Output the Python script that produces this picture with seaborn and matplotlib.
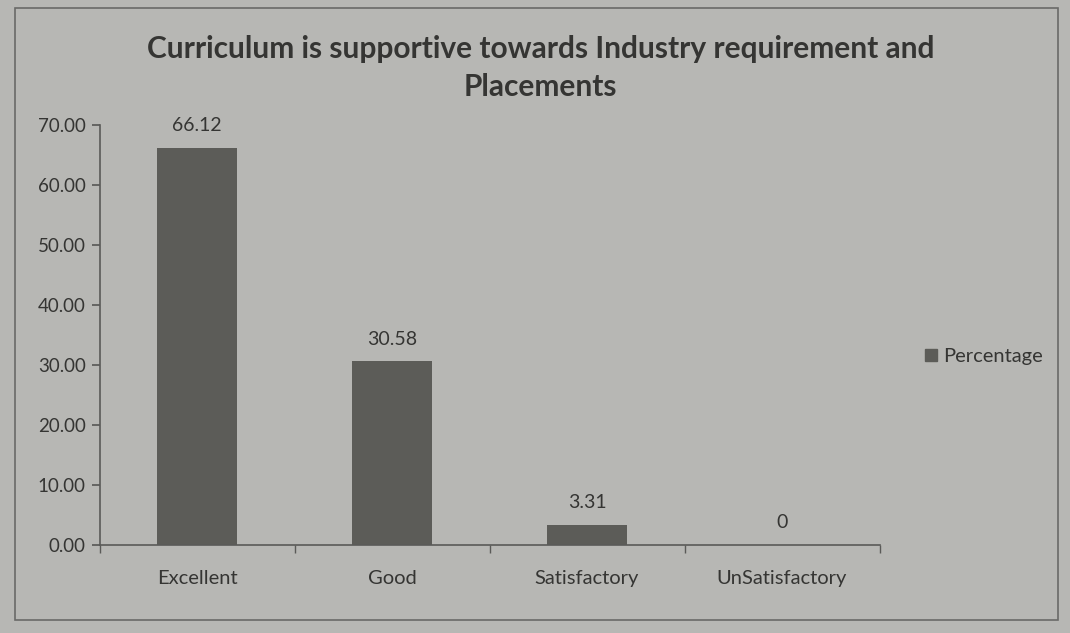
import matplotlib
matplotlib.use("Agg")
import matplotlib.pyplot as plt
import seaborn as sns
from matplotlib.ticker import FormatStrFormatter, FixedLocator
from matplotlib.patches import Rectangle, Patch

categories = ["Excellent", "Good", "Satisfactory", "UnSatisfactory"]
values = [66.12, 30.58, 3.31, 0]
series_name = "Percentage"
title = "Curriculum is supportive towards Industry requirement and\nPlacements"
yticks = [0, 10, 20, 30, 40, 50, 60, 70]

bg = "#b7b7b4"
bar_color = "#5c5c58"
text_color = "#353533"
axis_color = "#5a5a58"

sns.set_theme(style="white")
plt.rcParams["font.family"] = ["Lato", "DejaVu Sans"]

fig = plt.figure(figsize=(10.7, 6.33), dpi=100, facecolor=bg)
ax = fig.add_axes([0.093, 0.139, 0.729, 0.664])
ax.set_facecolor(bg)

sns.barplot(x=categories, y=values, color=bar_color, width=0.41,
            saturation=1, linewidth=0, edgecolor=bar_color, ax=ax)

ax.set_ylim(0, 70)
ax.set_xlim(-0.5, 3.5)
ax.set_yticks(yticks)
ax.yaxis.set_major_formatter(FormatStrFormatter("%.2f"))
ax.xaxis.set_minor_locator(FixedLocator([-0.5, 0.5, 1.5, 2.5, 3.5]))

for s in ["top", "right"]:
    ax.spines[s].set_visible(False)
for s in ["left", "bottom"]:
    ax.spines[s].set_color(axis_color)
    ax.spines[s].set_linewidth(1.2)

ax.tick_params(axis="y", which="major", left=True, length=6, color=axis_color,
               labelsize=13.5, labelcolor=text_color, pad=4)
ax.tick_params(axis="x", which="major", bottom=False, labelsize=14.5,
               labelcolor=text_color, pad=12)
ax.tick_params(axis="x", which="minor", bottom=True, length=6, color=axis_color)
ax.set_xlabel("")
ax.set_ylabel("")

labels = [f"{v:g}" for v in values]
ax.bar_label(ax.containers[0], labels=labels, padding=10, fontsize=14,
             color=text_color)

fig.text(0.505, 0.893, title, ha="center", va="center", fontsize=21.5,
         fontweight="bold", color=text_color, linespacing=1.45)

handle = Patch(facecolor=bar_color, edgecolor=bar_color)
leg = fig.legend([handle], [series_name], loc="center left",
                 bbox_to_anchor=(0.848, 0.437), frameon=False, fontsize=14.5,
                 handlelength=0.55, handleheight=0.55, handletextpad=0.35)
for t in leg.get_texts():
    t.set_color(text_color)

fig.patches.append(Rectangle((0.014, 0.02), 0.975, 0.967, transform=fig.transFigure,
                             fill=False, edgecolor="#6a6a68", linewidth=1.2))

fig.savefig("out.png", dpi=100, facecolor=bg)
